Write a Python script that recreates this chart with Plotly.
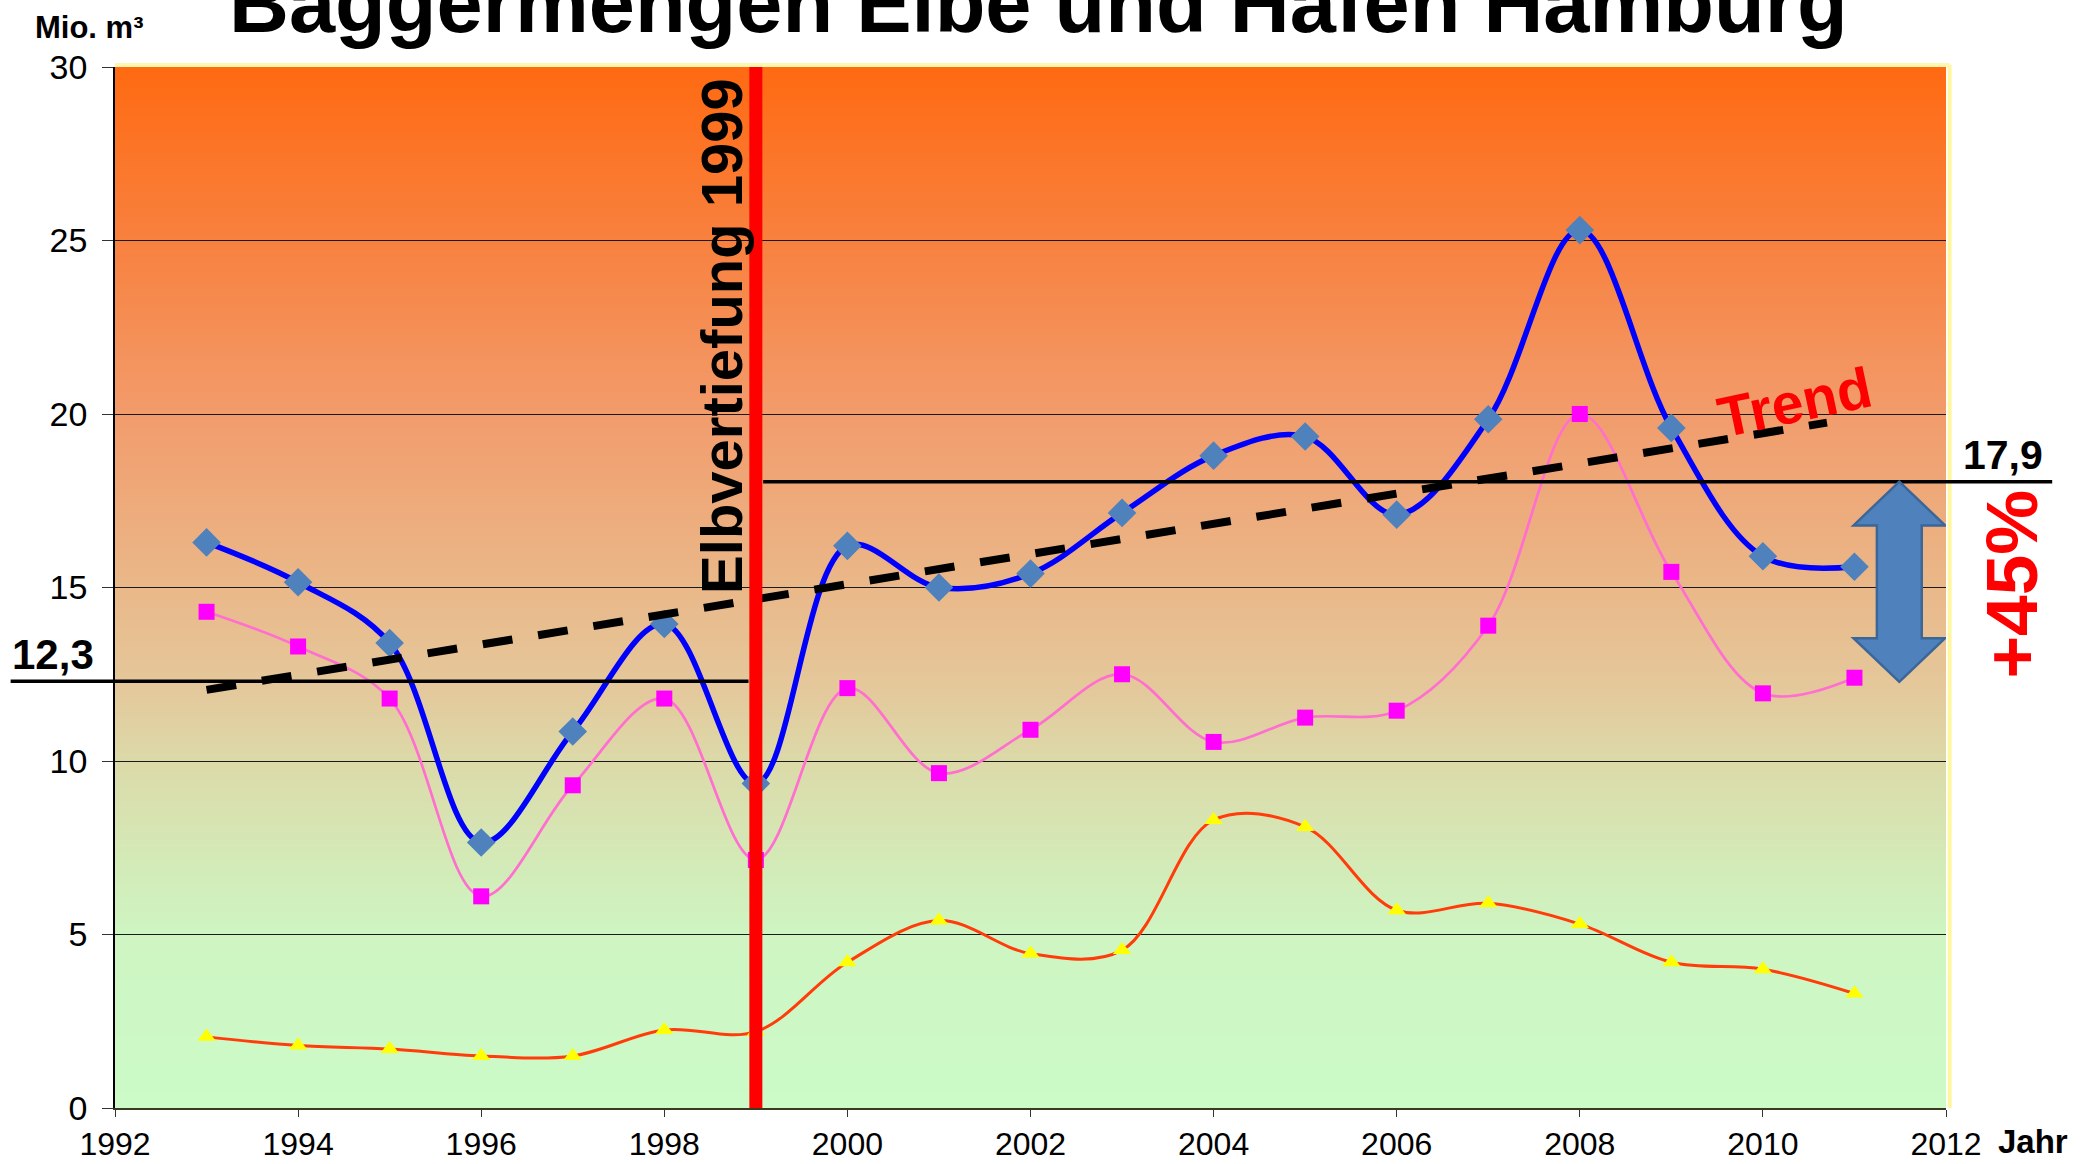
import base64
import struct
import zlib

import plotly.graph_objects as go

# ---------------- data ----------------
years = [1993, 1994, 1995, 1996, 1997, 1998, 1999, 2000, 2001, 2002,
         2003, 2004, 2005, 2006, 2007, 2008, 2009, 2010, 2011]
total = [16.3, 15.15, 13.4, 7.65, 10.85, 13.95, 9.35, 16.2, 15.0, 15.4,
         17.15, 18.8, 19.35, 17.1, 19.85, 25.3, 19.6, 15.9, 15.6]
series_pink = [14.3, 13.3, 11.8, 6.1, 9.3, 11.8, 7.15, 12.1, 9.65, 10.9,
               12.5, 10.55, 11.25, 11.45, 13.9, 20.0, 15.45, 11.95, 12.4]
series_orange = [2.05, 1.8, 1.7, 1.5, 1.5, 2.25, 2.2, 4.2, 5.4, 4.45,
                 4.55, 8.3, 8.1, 5.7, 5.9, 5.3, 4.2, 4.0, 3.3]

trend_x = [1993, 2010.7]
trend_y = [12.05, 19.75]

deepening_year = 1999
mean_before = 12.3
mean_after = 17.9
mean_after_drawn = 18.05
mean_before_label = "12,3"
mean_after_label = "17,9"
increase_label = "+45%"

x_ticks = [1992, 1994, 1996, 1998, 2000, 2002, 2004, 2006, 2008, 2010, 2012]
y_ticks = [0, 5, 10, 15, 20, 25, 30]
x_range = [1992, 2012]
y_range = [0, 30]

# background gradient stops (value -> colour)
grad_values = [30, 25, 20, 15, 12, 10, 7, 5, 0]
grad_colors = ["#FF6A12", "#F8813F", "#F29C6C", "#EAB889", "#E4C99C",
               "#DCDAA9", "#D3EBB8", "#CEF5C2", "#CCFBC8"]

FONT = "Liberation Sans, Arial, sans-serif"


def hex_rgb(h):
    h = h.lstrip("#")
    return tuple(int(h[i:i + 2], 16) for i in (0, 2, 4))


def gradient_png(n=400, w=4):
    rows = []
    for i in range(n):
        v = y_range[1] - (y_range[1] - y_range[0]) * (i + 0.5) / n
        for k in range(len(grad_values) - 1):
            hi, lo = grad_values[k], grad_values[k + 1]
            if lo <= v <= hi:
                t = (hi - v) / (hi - lo)
                c1, c2 = hex_rgb(grad_colors[k]), hex_rgb(grad_colors[k + 1])
                rgb = tuple(int(round(a + (b - a) * t)) for a, b in zip(c1, c2))
                break
        rows.append(b"\x00" + bytes(rgb) * w)
    raw = b"".join(rows)

    def chunk(tag, data):
        return (struct.pack(">I", len(data)) + tag + data
                + struct.pack(">I", zlib.crc32(tag + data) & 0xFFFFFFFF))

    png = (b"\x89PNG\r\n\x1a\n"
           + chunk(b"IHDR", struct.pack(">IIBBBBB", w, n, 8, 2, 0, 0, 0))
           + chunk(b"IDAT", zlib.compress(raw, 9))
           + chunk(b"IEND", b""))
    return "data:image/png;base64," + base64.b64encode(png).decode()


fig = go.Figure()

# data series
fig.add_trace(go.Scatter(
    x=years, y=series_orange, name="Serie 3", mode="lines+markers",
    line=dict(color="#FF3C0A", width=3, shape="spline", smoothing=1.0),
    marker=dict(symbol="triangle-up", size=16, color="#FFFF00",
                line=dict(width=0)),
))
fig.add_trace(go.Scatter(
    x=years, y=series_pink, name="Serie 2", mode="lines+markers",
    line=dict(color="#FF6FCF", width=2.7, shape="spline", smoothing=1.0),
    marker=dict(symbol="square", size=16, color="#FF00FF",
                line=dict(width=0)),
))
fig.add_trace(go.Scatter(
    x=years, y=total, name="Gesamt", mode="lines+markers",
    line=dict(color="#0000FF", width=5.5, shape="spline", smoothing=1.0),
    marker=dict(symbol="diamond", size=22, color="#4F81BD",
                line=dict(width=0)),
))
# trend
fig.add_trace(go.Scatter(
    x=trend_x, y=trend_y, mode="lines", name="Trend",
    line=dict(color="black", width=8, dash="30px,26px"),
))
# deepening line
fig.add_trace(go.Scatter(
    x=[deepening_year, deepening_year], y=y_range, mode="lines",
    line=dict(color="#FF0000", width=13), name="Elbvertiefung",
))

span = x_range[1] - x_range[0]


def px_(yr):
    return (yr - x_range[0]) / span


def py_(v):
    return (v - y_range[0]) / (y_range[1] - y_range[0])


shapes = []
# mean lines (extend outside plot area -> paper coords derived from axes)
shapes.append(dict(type="line", xref="paper", yref="paper",
                   x0=-0.057, x1=px_(deepening_year) - 0.004,
                   y0=py_(mean_before), y1=py_(mean_before),
                   line=dict(color="black", width=3.5), layer="above"))
shapes.append(dict(type="line", xref="paper", yref="paper",
                   x0=px_(deepening_year) + 0.004, x1=1.058,
                   y0=py_(mean_after_drawn), y1=py_(mean_after_drawn),
                   line=dict(color="black", width=3.5), layer="above"))
# plot area light border (top/right)
shapes.append(dict(type="line", xref="paper", yref="paper", x0=0, x1=1.002,
                   y0=1.002, y1=1.002, line=dict(color="#FFF7B0", width=4),
                   layer="below"))
shapes.append(dict(type="line", xref="paper", yref="paper", x0=1.002, x1=1.002,
                   y0=0, y1=1.002, line=dict(color="#FFF7A0", width=4),
                   layer="below"))

# double arrow between the two means
xc = 2011.49
hw, sw = 0.5, 0.245
top, bot = mean_after_drawn, mean_before - 0.02
hl = 1.26
path = (f"M {xc},{top} L {xc + hw},{top - hl} L {xc + sw},{top - hl} "
        f"L {xc + sw},{bot + hl} L {xc + hw},{bot + hl} L {xc},{bot} "
        f"L {xc - hw},{bot + hl} L {xc - sw},{bot + hl} L {xc - sw},{top - hl} "
        f"L {xc - hw},{top - hl} Z")
shapes.append(dict(type="path", xref="x", yref="y", path=path,
                   fillcolor="#4F81BD", line=dict(color="#3B6698", width=2.5),
                   layer="above"))

annotations = [
    dict(text="Baggermengen Elbe und Hafen Hamburg", xref="paper", yref="paper",
         x=0.5046, y=1.0, yanchor="bottom", xanchor="center", showarrow=False,
         yshift=15,
         font=dict(family=FONT, size=83, color="black", weight="bold")),
    dict(text="Mio. m³", xref="paper", yref="paper", x=-0.014, y=1.0384,
         xanchor="center", yanchor="middle", showarrow=False,
         font=dict(family=FONT, size=31, color="black", weight="bold")),
    dict(text="Jahr", xref="paper", yref="paper", x=1.0475, y=-0.032,
         xanchor="center", yanchor="middle", showarrow=False,
         font=dict(family=FONT, size=33, color="black", weight="bold")),
    dict(text="Elbvertiefung 1999", xref="x", yref="y", x=1998.63, y=22.25,
         textangle=-90, showarrow=False,
         font=dict(family=FONT, size=58, color="black", weight="bold")),
    dict(text="Trend", xref="x", yref="y", x=2010.35, y=20.35, textangle=-12,
         showarrow=False,
         font=dict(family=FONT, size=57, color="#FF0000", weight="bold")),
    dict(text=mean_before_label, xref="paper", yref="y", x=-0.034,
         y=mean_before, yanchor="bottom", xanchor="center", yshift=1,
         showarrow=False,
         font=dict(family=FONT, size=42, color="black", weight="bold")),
    dict(text=mean_after_label, xref="paper", yref="y", x=1.031,
         y=mean_after_drawn, yanchor="bottom", xanchor="center", yshift=2,
         showarrow=False,
         font=dict(family=FONT, size=41, color="black", weight="bold")),
    dict(text=increase_label, xref="paper", yref="y", x=1.059, y=15.1,
         textangle=-90, showarrow=False,
         font=dict(family=FONT, size=73, color="#FF0000", weight="bold")),
]

fig.update_layout(
    width=2094, height=1164,
    margin=dict(l=115, r=148, t=67, b=56, autoexpand=False),
    paper_bgcolor="white", plot_bgcolor="rgba(0,0,0,0)",
    showlegend=False,
    shapes=shapes, annotations=annotations,
    images=[dict(source=gradient_png(), xref="x", yref="y",
                 x=x_range[0], y=y_range[1], sizex=span,
                 sizey=y_range[1] - y_range[0], sizing="stretch",
                 xanchor="left", yanchor="top", layer="below")],
    xaxis=dict(range=x_range, tickvals=x_ticks,
               ticktext=[str(t) for t in x_ticks], automargin=False,
               showgrid=False, zeroline=False, showline=True,
               linecolor="#3A3A20", linewidth=1.5, ticks="outside",
               ticklen=7, tickcolor="#333", tickwidth=1.2,
               tickfont=dict(family=FONT, size=32, color="black"),
               fixedrange=True),
    yaxis=dict(range=y_range, tickvals=y_ticks,
               ticktext=[str(t) for t in y_ticks], automargin=False,
               showgrid=True, gridcolor="#1A1A1A", gridwidth=1,
               zeroline=False, showline=True, linecolor="black", linewidth=1.5,
               ticks="outside", ticklen=11, tickcolor="#333", tickwidth=1.2,
               ticklabelstandoff=8,
               tickfont=dict(family=FONT, size=34, color="black"),
               fixedrange=True),
)

# remove the default 8 px page margin so the figure fills the window exactly
fig.write_html(
    "out.html",
    config={"displayModeBar": False},
    post_script="document.body.style.margin='0';document.body.style.overflow='hidden';",
)
